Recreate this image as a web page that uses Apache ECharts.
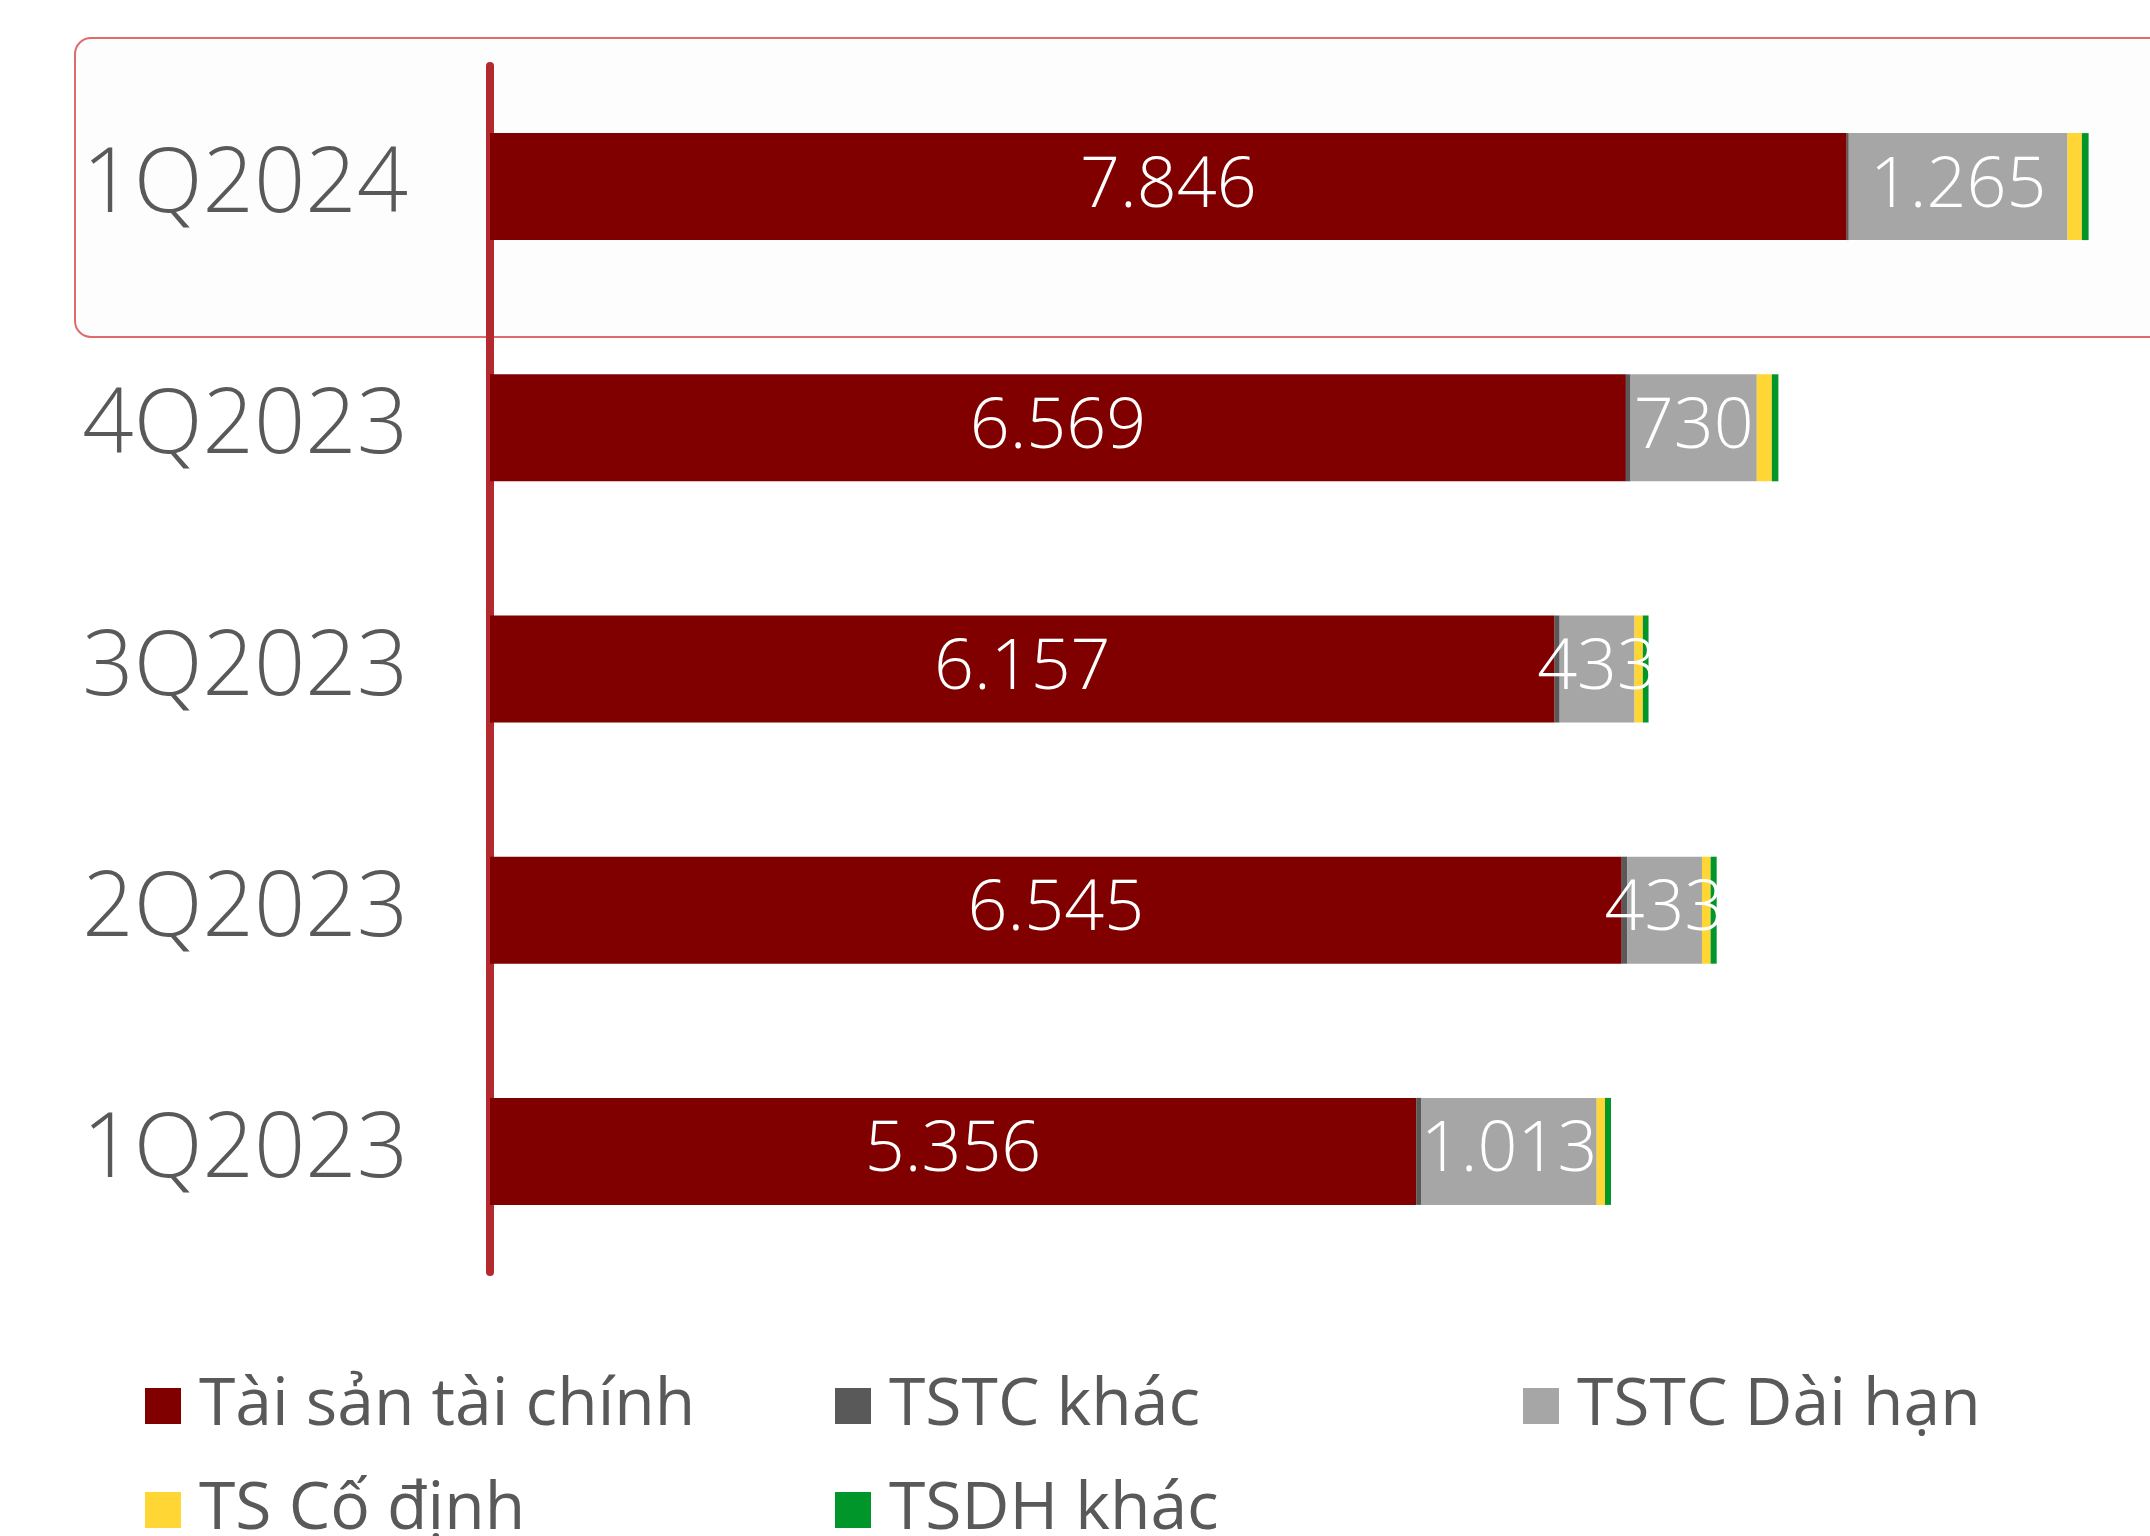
<!DOCTYPE html>
<html>
<head>
<meta charset="utf-8">
<script src="https://cdn.jsdelivr.net/npm/echarts@6/dist/echarts.min.js"></script>
<style>
html,body{margin:0;padding:0;background:#fff;}
#g_canvas{width:2150px;height:1536px;}
</style>
</head>
<body>
<div id="g_canvas"></div>
<script>
// 季度
var quarters = ['1Q2024', '4Q2023', '3Q2023', '2Q2023', '1Q2023'];
// 各项资产
var tsTaiChinh = [7846, 6569, 6157, 6545, 5356];
var tstcKhac = [12, 27, 29, 31, 31];
var tstcDaiHan = [1265, 730, 433, 433, 1013];
var tsCoDinh = [83, 87, 48, 50, 48];
var tsdhKhac = [39, 38, 33, 35, 35];
var seriesNames = ['Tài sản tài chính', 'TSTC khác', 'TSTC Dài hạn', 'TS Cố định', 'TSDH khác'];
var seriesColors = ['#800000', '#595959', '#a6a6a6', '#ffd633', '#00962a'];

var font = '"Open Sans", "Noto Sans", sans-serif';

function fmt(v){
	return String(v).replace(/\B(?=(\d{3})+(?!\d))/g, '.');
}

function makeSeries(name, data, color, showLabel){
	return {
		name: name,
		type: 'bar',
		stack: 'ts',
		barWidth: 107,
		data: data,
		itemStyle: {color: color},
		label: {
			show: showLabel,
			position: 'inside',
			color: '#fff',
			fontFamily: font,
			fontWeight: 300,
			fontSize: 70,
			formatter: function(p){ return fmt(p.value); }
		}
	};
}

// 图例 一项一个, 排成两行三列
var legendPos = [[140, 1368], [830, 1368], [1518, 1368], [140, 1472], [830, 1472]];
var legends = [];
for(let i=0;i<seriesNames.length;i++){
	legends.push({
		data: [seriesNames[i]],
		left: legendPos[i][0],
		top: legendPos[i][1],
		itemWidth: 36,
		itemHeight: 36,
		icon: 'rect',
		textStyle: {
			color: '#595959',
			fontFamily: font,
			fontSize: 66,
			padding: [0, 0, 0, 13]
		}
	});
}

option = {
	animation: false,
	backgroundColor: '#fff',
	graphic: [{
		type: 'rect',
		z: -10,
		shape: {x: 75, y: 38, width: 2200, height: 299, r: [16, 0, 0, 16]},
		style: {fill: '#fdfdfd', stroke: '#e06b6b', lineWidth: 2}
	}],
	grid: {
		left: 490,
		top: 66,
		right: 0,
		height: 1206
	},
	legend: legends,
	xAxis: {
		type: 'value',
		min: 0,
		max: 9600,
		show: false
	},
	yAxis: {
		type: 'category',
		inverse: true,
		data: quarters,
		axisLine: {
			show: true,
			lineStyle: {color: '#b3292e', width: 8}
		},
		axisTick: {show: false},
		axisLabel: {
			color: '#595959',
			fontFamily: font,
			fontWeight: 300,
			fontSize: 90,
			margin: 82
		}
	},
	series: [
		makeSeries(seriesNames[0], tsTaiChinh, seriesColors[0], true),
		makeSeries(seriesNames[1], tstcKhac, seriesColors[1], false),
		makeSeries(seriesNames[2], tstcDaiHan, seriesColors[2], true),
		makeSeries(seriesNames[3], tsCoDinh, seriesColors[3], false),
		makeSeries(seriesNames[4], tsdhKhac, seriesColors[4], false)
	]
};
var myChart = echarts.init(document.getElementById('g_canvas'));
myChart.setOption(option);
</script>
</body>
</html>
